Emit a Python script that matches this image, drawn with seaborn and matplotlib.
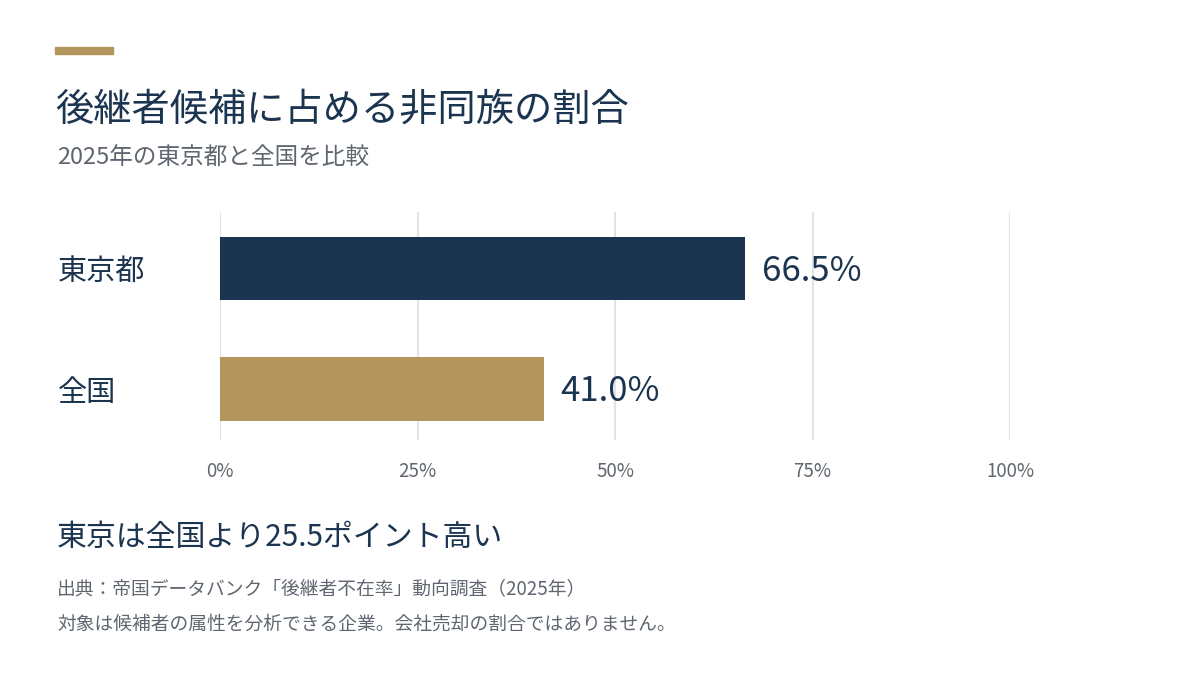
import matplotlib
matplotlib.use("Agg")
import matplotlib.pyplot as plt
import matplotlib.patches as patches
import seaborn as sns

# Data
regions = ["東京都", "全国"]
shares = [66.5, 41.0]
x_ticks = [0, 25, 50, 75, 100]
x_tick_labels = ["0%", "25%", "50%", "75%", "100%"]

NAVY = "#1b344f"
GOLD = "#b3965e"
GREY = "#5f6670"
GRID = "#e3e3e3"

sns.set_style("white")
plt.rcParams["font.family"] = ["Noto Sans CJK JP", "DejaVu Sans"]

W, H = 1200, 675
fig = plt.figure(figsize=(W / 100, H / 100), dpi=100)
fig.patch.set_facecolor("white")


def px(x, y):
    return x / W, 1 - y / H


# axes area: x 220..1010, y 212..440
left, top = px(220, 212)
right, bottom = px(1010, 440)
ax = fig.add_axes([left, bottom, right - left, top - bottom])

sns.barplot(x=shares, y=regions, hue=regions, palette=[NAVY, GOLD],
            saturation=1, width=0.53, linewidth=0, legend=False, ax=ax, zorder=3)

ax.set_xlim(0, 100)
ax.set_ylim(1.423, -0.469)
ax.set_xticks(x_ticks)
ax.set_xticklabels(x_tick_labels)
for t in x_ticks:
    ax.axvline(t, color=GRID, lw=1.5, zorder=1)

for s in ax.spines.values():
    s.set_visible(False)
ax.set_xlabel("")
ax.set_ylabel("")
ax.tick_params(axis="x", length=0, pad=15, labelsize=13.5, labelcolor=GREY)
ax.tick_params(axis="y", length=0, pad=117, labelsize=21, labelcolor=NAVY)
for lab in ax.get_yticklabels():
    lab.set_horizontalalignment("left")

# value labels
for i, v in enumerate(shares):
    ax.annotate(f"{v:.1f}%", xy=(v, i), xytext=(12, -2), textcoords="offset points",
                ha="left", va="center", fontsize=25, color=NAVY, clip_on=False)

# accent bar
x0, y0 = px(55, 54)
fig.patches.append(patches.Rectangle((x0, y0), 58 / W, 7 / H, transform=fig.transFigure,
                                     color=GOLD, figure=fig))

fig.text(*px(55, 110), "後継者候補に占める非同族の割合", fontsize=27.5, color=NAVY,
         ha="left", va="center")
fig.text(*px(57, 158), "2025年の東京都と全国を比較", fontsize=17, color=GREY,
         ha="left", va="center")
fig.text(*px(57, 538), "東京は全国より25.5ポイント高い", fontsize=21.5, color=NAVY,
         ha="left", va="center")
fig.text(*px(57, 589), "出典：帝国データバンク「後継者不在率」動向調査（2025年）",
         fontsize=13.5, color=GREY, ha="left", va="center")
fig.text(*px(57, 624), "対象は候補者の属性を分析できる企業。会社売却の割合ではありません。",
         fontsize=13.5, color=GREY, ha="left", va="center")

fig.savefig("out.png", dpi=100, facecolor="white")
